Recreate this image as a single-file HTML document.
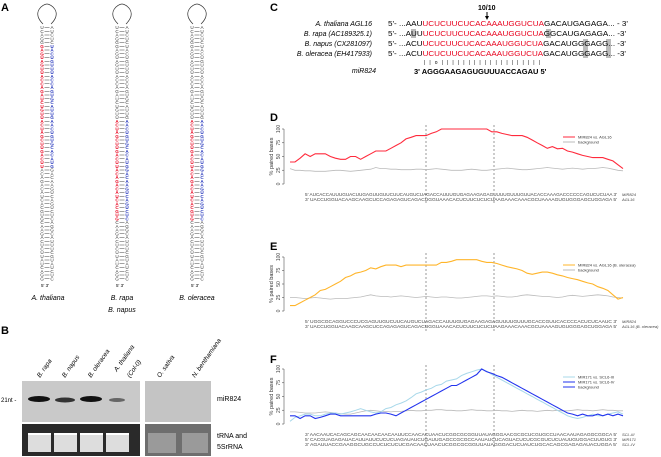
<!DOCTYPE html>
<html><head><meta charset="utf-8"><style>
html,body{margin:0;padding:0;background:#fff;width:661px;height:457px;overflow:hidden}
svg{display:block;font-family:"Liberation Sans",sans-serif}
</style></head><body>
<svg id="fig" width="661" height="457" viewBox="0 0 661 457" xmlns="http://www.w3.org/2000/svg">
<g font-weight="bold" font-size="11">
<text x="1" y="11">A</text><text x="1" y="334">B</text><text x="270" y="11">C</text>
<text x="270" y="121">D</text><text x="270" y="250">E</text><text x="270" y="363">F</text>
</g>
<g id="panelA"></g>
<g font-size="7" font-style="italic" text-anchor="middle">
<text x="48" y="300">A. thaliana</text><text x="122" y="300">B. rapa</text><text x="122" y="312">B. napus</text><text x="197" y="300">B. oleracea</text>
</g>
<g>
<rect x="22" y="381" width="118" height="41" fill="#c9c9c9"/>
<rect x="145" y="381" width="66" height="41" fill="#c4c4c4"/>
<ellipse cx="39" cy="399" rx="11" ry="3" fill="#111"/>
<ellipse cx="65" cy="400" rx="10" ry="2.5" fill="#333"/>
<ellipse cx="91" cy="399" rx="11" ry="3" fill="#111"/>
<ellipse cx="117" cy="400" rx="8" ry="2" fill="#666"/>
<rect x="22" y="424" width="118" height="32" fill="#2a2a2a"/>
<rect x="145" y="424" width="66" height="32" fill="#6e6e6e"/>
<g fill="#ddd"><rect x="28" y="434" width="23" height="18"/><rect x="54" y="434" width="23" height="18"/><rect x="80" y="434" width="23" height="18"/><rect x="106" y="434" width="23" height="18"/></g>
<g fill="#fff"><rect x="28" y="433" width="23" height="2"/><rect x="54" y="433" width="23" height="2"/><rect x="80" y="433" width="23" height="2"/><rect x="106" y="433" width="23" height="2"/></g>
<g fill="#9a9a9a"><rect x="148" y="433" width="28" height="20"/><rect x="182" y="433" width="26" height="20"/></g>
<text x="1" y="402" font-size="6">21nt -</text>
<text x="217" y="401" font-size="7">miR824</text>
<text x="217" y="438" font-size="7">tRNA and</text><text x="217" y="449" font-size="7">5SrRNA</text>
<g font-size="6.5" font-style="italic">
<text transform="translate(40,378) rotate(-55)">B. rapa</text>
<text transform="translate(65,378) rotate(-55)">B. napus</text>
<text transform="translate(91,378) rotate(-55)">B. oleracea</text>
<text transform="translate(117,372) rotate(-55)">A. thaliana</text>
<text transform="translate(130,378) rotate(-55)">(Col-0)</text>
<text transform="translate(160,378) rotate(-55)">O. sativa</text>
<text transform="translate(195,378) rotate(-55)">N. benthamiana</text>
</g></g>
<g font-size="7">
<text x="478" y="10" font-weight="bold" font-size="7">10/10</text>
<path d="M487 12 V19" stroke="#000" stroke-width="1"/><path d="M485 16 L487 20 L489 16Z"/>
<g font-style="italic" text-anchor="end"><text x="372" y="26">A. thaliana AGL16</text><text x="372" y="36">B. rapa (AC189325.1)</text><text x="372" y="46">B. napus (CX281097)</text><text x="372" y="56">B. oleracea (EH417933)</text><text x="376" y="73">miR824</text></g>
<g fill="#bbb"><rect x="411" y="29" width="5" height="9"/><rect x="546" y="29" width="5" height="9"/><rect x="583" y="39" width="5" height="19"/><rect x="606" y="39" width="5" height="19"/></g>
<text x="388" y="26" textLength="240" lengthAdjust="spacingAndGlyphs">5'- ...AAU<tspan fill="#e8001c">UCUCUUCUCACAAAUGGUCUA</tspan>GACAUGAGAGA... - 3'</text>
<text x="388" y="36" textLength="238" lengthAdjust="spacingAndGlyphs">5'- ...AUU<tspan fill="#e8001c">UCUCUUCUCACAAAUGGUCUA</tspan>GGCAUGAGAGA... -3'</text>
<text x="388" y="46" textLength="238" lengthAdjust="spacingAndGlyphs">5'- ...ACU<tspan fill="#e8001c">UCUCUUCUCACAAAUGGUCUA</tspan>GACAUGGGAGG... -3'</text>
<text x="388" y="56" textLength="238" lengthAdjust="spacingAndGlyphs">5'- ...ACU<tspan fill="#e8001c">UCUCUUCUCACAAAUGGUCUA</tspan>GACAUGGGAGG... -3'</text>
<text x="424" y="64" font-size="5" textLength="116" lengthAdjust="spacing">| | o | | | | | | | | | | | | | | | | | | |</text>
<text x="414" y="74" font-weight="bold" font-size="7.5">3' AGGGAAGAGUGUUUACCAGAU   5'</text>
</g>
<g id="charts"></g>
</svg>
<script>
const dRed=[40,40,47,55,50,55,55,55,50,47,45,45,50,50,45,50,55,60,60,60,65,70,75,82,85,88,88,88,92,95,100,100,100,100,100,100,100,100,100,100,95,95,92,90,88,88,88,85,80,75,70,65,68,64,65,60,58,55,52,50,48,48,48,45,42,35,28];
const dBg=[28,25,25,24,24,23,23,23,24,25,25,24,23,24,25,26,27,30,28,28,27,27,26,26,26,27,27,26,27,28,27,26,25,25,25,26,27,26,25,25,26,27,28,29,28,27,26,26,27,28,29,30,29,28,27,28,29,28,27,28,28,29,30,29,27,25,24];
const eOrange=[10,10,15,20,25,30,38,40,45,50,55,62,65,70,72,75,80,78,82,85,85,85,82,85,85,85,85,85,85,85,90,90,92,95,95,95,95,95,92,90,90,88,85,82,80,78,75,70,68,70,72,72,70,67,65,62,60,58,55,52,50,45,42,38,30,22,25];
const eBg=[25,25,24,23,24,25,24,23,22,23,23,23,24,25,26,28,30,28,27,27,26,27,28,27,26,25,26,27,26,25,26,26,25,24,24,25,26,27,28,28,27,28,27,26,26,27,29,30,29,28,27,27,26,25,26,28,29,28,27,28,29,30,29,28,26,25,24];
const fBlue=[15,15,10,15,15,10,12,15,18,18,15,15,15,15,15,15,15,18,20,20,18,15,20,25,30,35,40,45,50,55,60,65,70,70,75,80,85,90,100,95,92,88,85,80,75,70,65,60,55,50,45,40,35,30,25,20,18,15,18,15,15,18,15,18,15,18,15];
const fLight=[5,12,15,18,18,15,15,18,20,20,18,20,22,25,28,25,22,20,22,28,30,35,38,42,48,55,58,62,65,70,72,78,80,82,88,92,95,98,100,96,90,85,80,75,70,65,60,55,50,45,40,35,30,25,20,15,12,10,12,15,18,15,15,18,20,22,18];
const fBg=[22,22,21,20,20,20,21,22,21,20,19,18,18,20,22,24,25,24,23,23,22,23,23,24,25,24,24,25,25,26,26,25,25,24,24,25,26,25,25,24,24,25,24,24,23,24,25,24,24,23,24,25,24,25,24,24,25,26,25,25,24,25,26,25,25,24,24];
const yTicks=[0,25,50,75,100];
const ns="http://www.w3.org/2000/svg";
const C=document.getElementById('charts');
function mk(t,a,p){const e=document.createElementNS(ns,t);for(const k in a)e.setAttribute(k,a[k]);(p||C).appendChild(e);return e;}
function chart(top,bot,series,legend,seqs,labels,name){
  const g=mk('g',{});
  
  
  const x0=290,x1=623;
  const sy=v=>bot-(v/100)*(bot-top);
  const sx=(i,n)=>x0+i*(x1-x0)/(n-1);
  mk('line',{x1:x0-6,y1:top,x2:x0-6,y2:bot,stroke:'#555','stroke-width':0.6},g);
  yTicks.forEach(t=>{mk('line',{x1:x0-8,y1:sy(t),x2:x0-6,y2:sy(t),stroke:'#555','stroke-width':0.6},g);
    const tx=mk('text',{x:0,y:0,'font-size':5,fill:'#444','text-anchor':'middle',transform:`translate(${x0-10},${sy(t)}) rotate(-90)`},g);tx.textContent=t;});
  const yl=mk('text',{'font-size':5.5,fill:'#333','text-anchor':'middle',transform:`translate(${x0-17},${(top+bot)/2}) rotate(-90)`},g);yl.textContent='% paired bases';
  const dashEnd=bot+10+seqs.length*5;
  [426,494].forEach(x=>mk('line',{x1:x,y1:top-4,x2:x,y2:dashEnd,stroke:'#555','stroke-width':0.6,'stroke-dasharray':'2,2'},g));
  series.forEach(s=>{const d=s.v.map((v,i)=>(i?'L':'M')+sx(i,s.v.length).toFixed(1)+' '+sy(v).toFixed(1)).join(' ');
    const p=mk('path',{d:d,fill:'none',stroke:s.c,'stroke-width':s.w},g);
    
    });
  legend.forEach((l,i)=>{const ly=top+8+i*5;mk('line',{x1:563,y1:ly,x2:575,y2:ly,stroke:l.c,'stroke-width':1},g);
    const t=mk('text',{x:578,y:ly+1.5,'font-size':4,fill:'#333'},g);t.textContent=l.t;});
  seqs.forEach((s,i)=>{const t=mk('text',{x:305,y:bot+12+i*5,'font-size':4.6,fill:'#444',textLength:312,lengthAdjust:'spacingAndGlyphs'},g);t.textContent=s;
    const lb=mk('text',{x:622,y:bot+12+i*5,'font-size':4,fill:'#444','font-style':'italic'},g);lb.textContent=labels[i];});
}
chart(129,184,[{v:dBg,c:'#bbb',w:0.8,n:'background-line'},{v:dRed,c:'#ff2a3c',w:1.1,n:'mir824-agl16-line'}],
 [{t:'MIR824 vs. AGL16',c:'#ff2a3c'},{t:'background',c:'#bbb'}],
 ["5' AUCACCAUUUGUACUUGAGUUGUUCUUCAUGUCUAGACCAUUUGUGAGAAGAGAGUUUUGUUUGUUACACCAAAGACCCCCCAGUCUCUAA 3'","3' UACCUGGUACAAGCAAGCUCCAGAGAGUCAGACUGGUAAACACUCUUCUCUCUAAGAAACAAACGCUAAAAGUGUGGGAGCUGGAGA 5'"],["MIR824","AGL16"],'chart-d');
chart(257,311,[{v:eBg,c:'#bbb',w:0.8,n:'background-line'},{v:eOrange,c:'#ffb52a',w:1.1,n:'mir824-agl16-oleracea-line'}],
 [{t:'MIR824 vs. AGL16 (B. oleracea)',c:'#ffb52a'},{t:'background',c:'#bbb'}],
 ["5' UGGCGCAGGUCCCUCGAGUUGUCUUCAUGUCUAGACCAUUUGUGAGAAGAGAGUUUUGUUUGCACCGUUCACCCCACUCUCAAUC 3'","3' UACCUGGUACAAGCAAGCUCCAGAGAGUCAGACUGGUAAACACUCUUCUCUCUAAGAAACAAACGCUAAAAGUGUGGGAGCUGGAGA 5'"],["MIR824","AGL16 (B. oleracea)"],'chart-e');
chart(369,424,[{v:fBg,c:'#bbb',w:0.8,n:'background-line'},{v:fLight,c:'#a8d8ea',w:1,n:'mir171-scl6-iii-line'},{v:fBlue,c:'#2233ee',w:1.1,n:'mir171-scl6-iv-line'}],
 [{t:'MIR171 vs. SCL6-III',c:'#a8d8ea'},{t:'MIR171 vs. SCL6-IV',c:'#2233ee'},{t:'background',c:'#2233ee'}],
 ["3' AACAAUCACAGCAGCAACAACAACAAUUCCAACACUAACUCGGCGCGGUUAUAGGGAACGCGCUCGUGCCUAACAAUAGAGGCGGCA 5'","5' CACGUAGAGAUACAUUAUUCUCUCUAGAUAUCUGAUUGAGCCGCGCCAAUAUCUCAGUACUCUCGCGUCUCUAUUGUGGACUUGUG 3'","3' AGAUUACCGAAGGCUGCCUCUCUCUCGACAACUAACUCGGCGCGGUUAUAGGGACUCUAUCUGCACAGCGAGAGAUACUGGA 5'"],["SCL-III","MIR171","SCL-IV"],'chart-f');

const A=document.getElementById('panelA');
const seqL="UCAGGGAGUAGUUACCAGAUCUGUUACUAGCUUGACUUACAGACAUCACGUGCAAGACUCUUA";
const seqR="AUCUCUACUGUUUACCAGUGCAUUGAACUGUGCACAUGGACAAGUCAGUCUCAGGCAUUUCGU";
function hairpin(cx,y0,y1,redRanges,name){
  const g=mk('g',{},A);
  
  
  mk('path',{d:`M${cx-4} ${y0} C${cx-16} ${y0-12},${cx-4} ${y0-20},${cx} ${y0-20} C${cx+4} ${y0-20},${cx+16} ${y0-12},${cx+4} ${y0}`,fill:'none',stroke:'#333','stroke-width':0.7},g);
  const n=Math.floor((y1-y0)/3.75);
  for(let i=0;i<n;i++){const y=y0+5+i*3.75;
    let col='#333',colR='#333';
    redRanges.forEach(r=>{if(i>=r[0]&&i<r[1]){col='#e8001c';colR='#2233bb';}});
    const l=mk('text',{x:cx-5,y:y,'font-size':4.6,fill:col,'text-anchor':'middle','font-weight':col==='#333'?'normal':'bold'},g);l.textContent=seqL[i%seqL.length];
    const r=mk('text',{x:cx+5,y:y,'font-size':4.6,fill:colR,'text-anchor':'middle','font-weight':colR==='#333'?'normal':'bold'},g);r.textContent=seqR[i%seqR.length];
    mk('line',{x1:cx-2.5,y1:y-1.5,x2:cx+2.5,y2:y-1.5,stroke:'#444','stroke-width':0.5},g);}
  const t=mk('text',{x:cx-6,y:y1+8,'font-size':4.5},g);t.textContent="5'   3'";
}
hairpin(47,24,279,[[5,38]],'hairpin-thaliana');
hairpin(122,24,279,[[25,52]],'hairpin-rapa-napus');
hairpin(197,24,279,[[25,52]],'hairpin-oleracea');
</script>
</body></html>
